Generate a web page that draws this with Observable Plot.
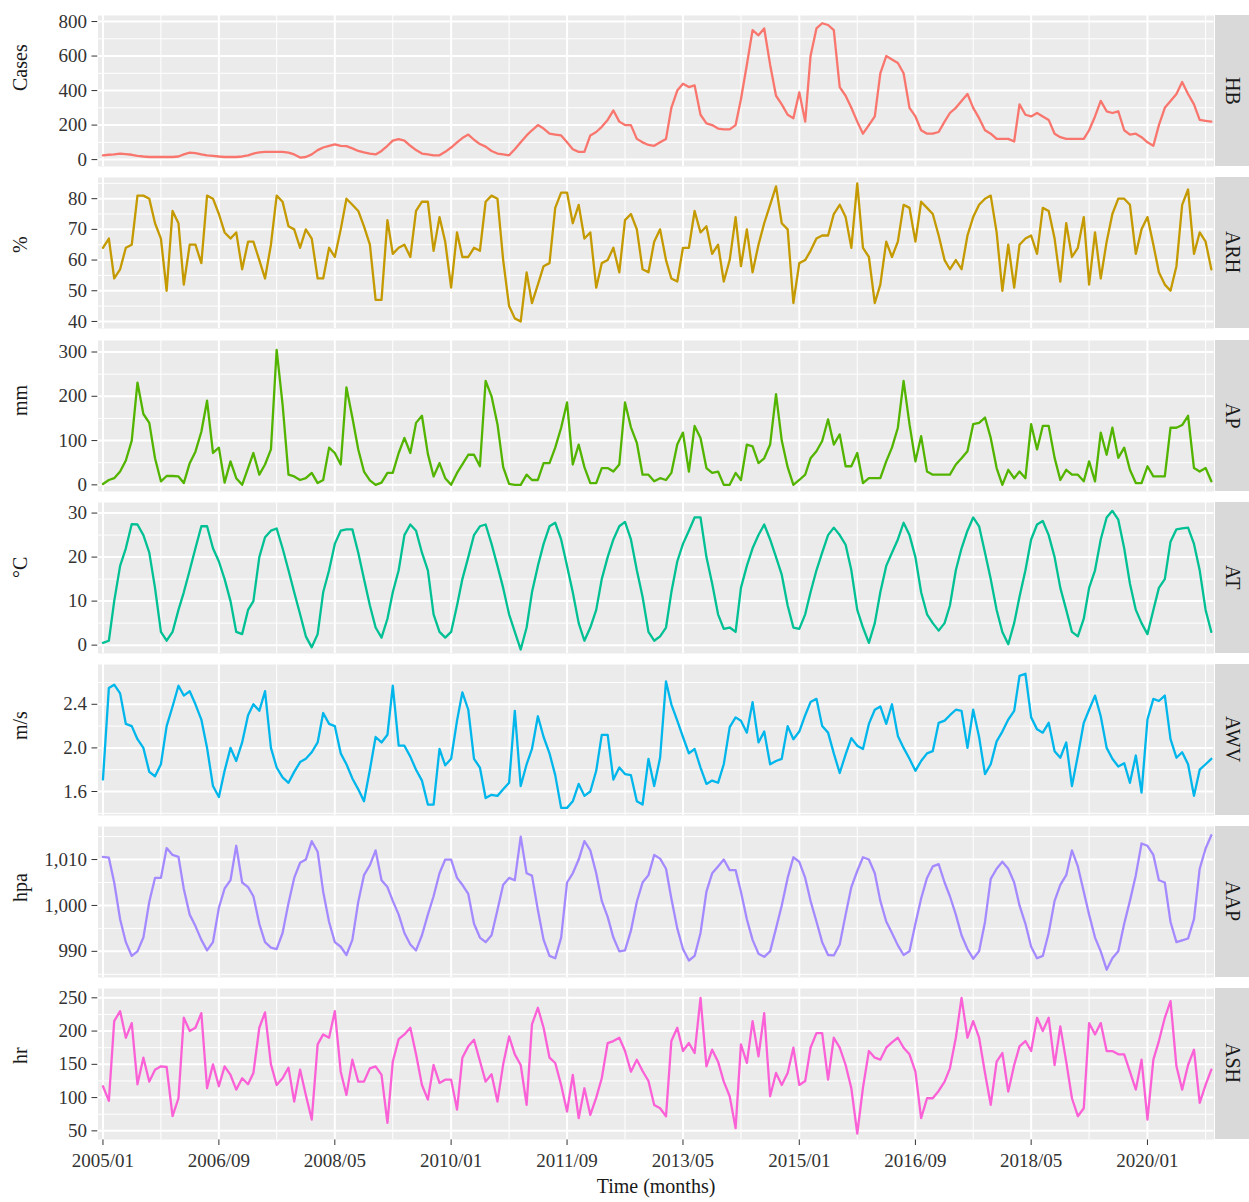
<!DOCTYPE html>
<html>
<head>
<meta charset="utf-8">
<script src="https://cdn.jsdelivr.net/npm/d3@7"></script>
<script src="https://cdn.jsdelivr.net/npm/@observablehq/plot@0.6"></script>
<style>
  body { margin: 0; background: #fff; }
  #chart { position: relative; width: 1249px; height: 1202px; font-family: "Liberation Serif", "DejaVu Serif", serif; }
  #chart svg.plotsvg { position: absolute; left: 0; }
  .strip { position: absolute; left: 1215px; width: 34px; height: 151px; background: #d9d9d9; color: #1a1a1a;
           font-size: 20px; display: flex; align-items: center; justify-content: center; writing-mode: vertical-rl; }
</style>
</head>
<body>
<div id="chart"></div>
<script>
// ---- data (monthly, 2005/01 .. 2020/12) ----
const panelNames = ["HB", "ARH", "AP", "AT", "AWV", "AAP", "ASH"];
const unitLabels = ["Cases", "%", "mm", "°C", "m/s", "hpa", "hr"];
const xTickLabels = ["2005/01", "2006/09", "2008/05", "2010/01", "2011/09", "2013/05", "2015/01", "2016/09", "2018/05", "2020/01"];
const xTitle = "Time (months)";

const HB = [
  25, 28, 30, 35, 32, 28, 22, 18, 15, 15, 15, 15,
  15, 18, 30, 40, 38, 30, 25, 22, 18, 15, 15, 15,
  18, 25, 35, 42, 45, 45, 45, 45, 40, 30, 12, 15,
  30, 55, 70, 80, 88, 80, 78, 65, 50, 42, 35, 30,
  50, 80, 110, 118, 110, 80, 55, 35, 30, 25, 25, 45,
  70, 100, 125, 145, 115, 90, 75, 50, 35, 30, 25, 60,
  100, 140, 170, 200, 180, 150, 145, 140, 100, 60, 45, 45,
  140, 160, 190, 230, 285, 220, 200, 200, 120, 100, 85, 80,
  100, 120, 300, 400, 440, 420, 430, 260, 210, 200, 180, 175,
  175, 200, 350, 550, 750, 720, 760, 550, 370, 320, 260, 240,
  390, 220, 600, 760, 790, 780, 750, 420, 370, 300, 220, 150,
  200, 250, 500, 600, 580, 560, 500, 300, 250, 170, 150, 150,
  160, 220, 270, 300, 340, 380, 300, 240, 170, 150, 120, 120,
  120, 105, 320, 260, 250, 270, 250, 230, 150, 130, 120, 120,
  120, 120, 170, 250, 340, 280, 270, 280, 170, 145, 150, 130,
  100, 80, 200, 300, 340, 380, 450, 380, 320, 230, 225, 220
];
const ARH = [
  64, 67, 54, 57, 64, 65, 81, 81, 80, 72, 67, 50,
  76, 72, 52, 65, 65, 59, 81, 80, 75, 69, 67, 69,
  57, 66, 66, 60, 54, 65, 81, 79, 71, 70, 64, 70,
  67, 54, 54, 64, 61, 70, 80, 78, 76, 71, 65, 47,
  47, 73, 62, 64, 65, 61, 76, 79, 79, 63, 74, 66,
  51, 69, 61, 61, 64, 63, 79, 81, 80, 60, 45, 41,
  40, 56, 46, 52, 58, 59, 77, 82, 82, 72, 78, 67,
  69, 51, 59, 60, 64, 56, 73, 75, 70, 57, 56, 66,
  70, 60, 54, 53, 64, 64, 76, 69, 71, 62, 65, 53,
  60, 74, 58, 70, 56, 65, 72, 78, 84, 72, 70, 46,
  59, 60, 63, 67, 68, 68, 75, 78, 74, 64, 85, 64,
  61, 46, 52, 66, 61, 66, 78, 77, 66, 79, 77, 75,
  68, 60, 57, 60, 57, 68, 74, 78, 80, 81, 69, 50,
  65, 51, 65, 67, 68, 62, 77, 76, 67, 53, 72, 61,
  64, 74, 52, 69, 54, 66, 75, 80, 80, 78, 62, 70,
  74, 65, 56, 52, 50, 58, 78, 83, 62, 69, 66, 57
];
const AP = [
  2, 11, 15, 30, 55, 100, 231, 160, 140, 60, 8, 20,
  20, 19, 4, 49, 75, 120, 190, 72, 84, 5, 53, 15,
  0, 38, 72, 23, 46, 80, 305, 182, 23, 19, 11, 15,
  27, 4, 11, 84, 72, 46, 220, 152, 80, 30, 10, 0,
  5, 27, 27, 72, 106, 72, 140, 156, 70, 19, 49, 15,
  0, 27, 46, 68, 68, 42, 235, 200, 137, 40, 2, 0,
  0, 23, 11, 11, 49, 49, 84, 129, 186, 46, 91, 40,
  4, 4, 38, 38, 30, 46, 186, 130, 95, 23, 23, 8,
  15, 11, 27, 91, 118, 30, 133, 106, 38, 27, 30, 0,
  0, 27, 11, 91, 87, 49, 60, 91, 205, 100, 40, 0,
  11, 23, 60, 76, 99, 148, 91, 114, 42, 42, 72, 4,
  15, 15, 15, 53, 84, 129, 235, 137, 53, 110, 30, 23,
  23, 23, 23, 46, 60, 76, 137, 140, 152, 106, 38, 0,
  34, 15, 30, 15, 137, 80, 133, 133, 61, 11, 34, 23,
  23, 8, 53, 8, 118, 68, 129, 61, 84, 34, 4, 4,
  42, 19, 19, 19, 129, 129, 135, 156, 38, 30, 38, 8
];
const AT = [
  0.5, 1, 10, 18, 22, 27.5, 27.4, 25, 21, 13, 3, 1,
  3, 8, 12, 17, 22, 27, 27, 22, 19, 15, 10, 3,
  2.5, 8, 10, 20, 24.5, 26, 26.5, 22, 17, 12, 7, 2,
  -0.5, 2.5, 12, 17, 23, 26, 26.3, 26.3, 21, 15, 9, 4,
  1.7, 6, 12, 17, 25, 27.4, 26, 21, 17, 7, 3, 1.7,
  3, 9, 15, 20, 25, 27, 27.4, 23, 18, 13, 7, 3,
  -1, 4, 12, 18, 23, 27, 27.8, 24, 18, 12, 5, 1,
  4, 8, 15, 20, 24, 27, 28, 24, 17, 11, 3, 1,
  2, 4, 12, 19, 23, 26, 29, 29, 20, 14, 7, 3.7,
  4, 3, 13, 18, 22, 25, 27.4, 24, 20, 16, 9, 4,
  3.7, 7, 12, 17, 21, 25, 26.7, 25, 22.8, 17, 8, 4,
  0.5, 5, 12, 18, 21, 24, 27.8, 25, 20, 12, 7, 5,
  3.3, 5, 9, 17, 22, 26, 29, 27, 21, 15, 8, 3,
  0.2, 5, 11, 17, 24, 27.4, 28.2, 25, 20, 13, 8, 3,
  2, 6, 13, 17, 24, 29, 30.5, 28.5, 22, 14, 8, 5,
  2.5, 8, 13, 15, 23.5, 26.3, 26.5, 26.7, 23, 17, 8, 3
];
const AWV = [
  1.71, 2.55, 2.58, 2.5, 2.22, 2.2, 2.08, 2.0, 1.78, 1.74, 1.85, 2.2,
  2.38, 2.57, 2.48, 2.52, 2.4, 2.26, 2.0, 1.65, 1.55, 1.79, 2.0, 1.88,
  2.05, 2.3, 2.4, 2.34, 2.52, 2.0, 1.82, 1.73, 1.68, 1.78, 1.87, 1.9,
  1.96, 2.05, 2.32, 2.22, 2.2, 1.95, 1.85, 1.72, 1.62, 1.51, 1.8, 2.1,
  2.05, 2.12, 2.57, 2.02, 2.02, 1.92, 1.8, 1.7, 1.48, 1.48, 1.99, 1.84,
  1.9, 2.25, 2.51, 2.35, 1.9, 1.82, 1.54, 1.57, 1.56, 1.62, 1.68, 2.34,
  1.65, 1.85, 1.99, 2.29, 2.1, 1.95, 1.75, 1.45, 1.45, 1.51, 1.67, 1.56,
  1.6, 1.79, 2.12, 2.12, 1.71, 1.82, 1.76, 1.75, 1.51, 1.48, 1.9, 1.65,
  1.91, 2.61, 2.4, 2.25, 2.1, 1.95, 1.99, 1.82, 1.67, 1.7, 1.68, 1.85,
  2.19, 2.28, 2.25, 2.14, 2.42, 2.05, 2.15, 1.85, 1.88, 1.9, 2.2, 2.08,
  2.15, 2.3, 2.42, 2.45, 2.2, 2.14, 1.95, 1.77, 1.94, 2.09, 2.02, 1.99,
  2.22, 2.35, 2.38, 2.22, 2.4, 2.11, 2.0, 1.9, 1.79, 1.88, 1.95, 1.97,
  2.23, 2.25, 2.3, 2.35, 2.34, 2.0, 2.35, 2.1, 1.76, 1.85, 2.06, 2.15,
  2.26, 2.34, 2.66, 2.68, 2.28, 2.17, 2.14, 2.23, 1.97, 1.91, 2.05, 1.65,
  1.93, 2.23, 2.35, 2.48, 2.29, 2.0, 1.9, 1.83, 1.86, 1.68, 1.93, 1.59,
  2.26, 2.45, 2.43, 2.48, 2.08, 1.91, 1.96, 1.85, 1.56, 1.8, 1.85, 1.9
];
const AAP = [
  1010.6, 1010.4, 1005, 997, 992, 989, 990, 993, 1000.8, 1006, 1006, 1012.5,
  1011, 1010.6, 1003.6, 998, 995.5, 992.5, 990.2, 992, 999.5, 1003.7, 1005.5, 1013,
  1005, 1004, 1002, 996, 992, 990.8, 990.5, 994, 1000.5, 1006, 1009.3, 1010,
  1014, 1011.7, 1003, 996.4, 992, 991, 989.2, 992.5, 1000.8, 1006.6, 1008.8, 1012,
  1005.5, 1004, 1001, 998, 994, 991.5, 990.2, 993.5, 998, 1002, 1007, 1010,
  1010, 1006, 1004.5, 1002.5, 996, 993, 992, 993.5, 999, 1004.5, 1006, 1005.5,
  1015, 1007, 1006.5, 999, 992.5, 989, 988.5, 993, 1005, 1007, 1010, 1014,
  1012, 1007, 1001, 997.5, 993, 990, 990.2, 994.5, 1000.8, 1005, 1006.6, 1011,
  1010.2, 1008, 1001.5, 995, 990.5, 988, 989, 994, 1003, 1007, 1008.5, 1010,
  1007.7, 1007.7, 1003, 997, 992.5, 989.5, 988.8, 990, 995, 1000, 1006, 1010.5,
  1009.5, 1006, 1001, 996.5, 992, 989.2, 989.1, 991.5, 998, 1004, 1007.5, 1010.5,
  1010, 1007, 1001, 996.5, 994, 991.3, 989.2, 990, 996, 1001.5, 1006, 1008.5,
  1009, 1005, 1002, 998, 993.5, 990.5, 988.4, 990, 996.4, 1005.8, 1008, 1009.5,
  1008, 1005, 1000, 996, 991, 988.5, 989, 994, 1001, 1004.5, 1006.6, 1012,
  1008.5, 1003, 998, 993, 990, 986, 988.5, 990, 996, 1001, 1006.6, 1013.5,
  1013, 1011, 1005.5, 1005, 996.4, 992, 992.4, 992.8, 997, 1008, 1012.4, 1015.3
];
const ASH = [
  117, 95, 215, 230, 190, 212, 120, 160, 124, 142, 147, 146,
  72, 99, 220, 200, 205, 227, 114, 150, 117, 147, 134, 112,
  129, 120, 137, 205, 228, 150, 119, 129, 145, 94, 142, 104,
  67, 180, 195, 190, 230, 139, 104, 157, 124, 124, 144, 147,
  134, 62, 154, 188, 195, 205, 165, 119, 97, 149, 122, 127,
  127, 82, 160, 177, 187, 155, 124, 135, 94, 150, 192, 165,
  149, 89, 210, 235, 205, 160, 152, 119, 79, 134, 69, 114,
  74, 100, 129, 182, 185, 190, 170, 139, 157, 140, 125, 89,
  84, 72, 185, 205, 170, 182, 167, 250, 147, 172, 154, 124,
  102, 54, 180, 152, 215, 162, 227, 102, 137, 119, 137, 175,
  119, 125, 175, 197, 197, 127, 190, 175, 149, 114, 46, 115,
  170, 160, 157, 175, 183, 190, 175, 165, 139, 69, 99, 99,
  110, 124, 144, 190, 250, 190, 215, 190, 137, 89, 154, 167,
  109, 149, 177, 185, 170, 220, 200, 220, 149, 207, 154, 99,
  72, 84, 212, 195, 212, 170, 170, 165, 165, 139, 112, 157,
  67, 157, 185, 220, 245, 147, 112, 149, 172, 92, 119, 142
];

const seriesValues = [HB, ARH, AP, AT, AWV, AAP, ASH];
const seriesColors = ["#F8766D", "#C49A00", "#53B400", "#00C094", "#00B6EB", "#A58AFF", "#FB61D7"];
const yTicks = [
  [0, 200, 400, 600, 800],
  [40, 50, 60, 70, 80],
  [0, 100, 200, 300],
  [0, 10, 20, 30],
  [1.6, 2.0, 2.4],
  [990, 1000, 1010],
  [50, 100, 150, 200, 250]
];
const yMinor = [
  [100, 300, 500, 700],
  [45, 55, 65, 75, 85],
  [50, 150, 250],
  [5, 15, 25],
  [1.4, 1.8, 2.2, 2.6],
  [985, 995, 1005, 1015],
  [75, 125, 175, 225]
];
const yDomains = [
  [-40, 835],
  [37.7, 86.9],
  [-15, 326],
  [-1.9, 32.4],
  [1.38, 2.765],
  [984.3, 1017.2],
  [37, 264]
];
const yFormats = [d3.format(","), d3.format(","), d3.format(","), d3.format(","), d3.format(".1f"), d3.format(","), d3.format(",")];

// ---- layout ----
const panelTops = [15, 177, 340, 502, 664, 826, 988];
const panelH = 151;
const pad = 12;
const parseMonth = d3.utcParse("%Y/%m");
const xTicks = xTickLabels.map(parseMonth);
const xMinor = xTicks.map(d => d3.utcMonth.offset(d, 10));
const xDomain = [new Date(Date.UTC(2004, 11, 6)), new Date(Date.UTC(2020, 11, 15))];
const dates = d3.range(192).map(i => new Date(Date.UTC(2005, i, 1)));

const chart = document.getElementById("chart");

panelNames.forEach((name, i) => {
  const last = i === panelNames.length - 1;
  const data = seriesValues[i].map((v, k) => ({date: dates[k], value: v}));
  const mb = last ? 64 : pad;
  const svg = Plot.plot({
    width: 1215,
    height: panelH + pad + mb,
    marginLeft: 97.5,
    marginRight: 1.5,
    marginTop: pad,
    marginBottom: mb,
    style: {fontFamily: '"Liberation Serif", "DejaVu Serif", serif', fontSize: "19px", color: "#333", background: "transparent"},
    x: {type: "utc", domain: xDomain, ticks: xTicks, tickFormat: d3.utcFormat("%Y/%m"),
        tickSize: 6, tickPadding: 8, label: null, axis: last ? "bottom" : null},
    y: {domain: yDomains[i], ticks: yTicks[i], tickFormat: yFormats[i], tickSize: 6, tickPadding: 5, label: null},
    marks: [
      Plot.frame({fill: "#ebebeb", stroke: null}),
      Plot.ruleY(yMinor[i], {stroke: "#fff", strokeWidth: 1}),
      Plot.ruleX(xMinor, {stroke: "#fff", strokeWidth: 1}),
      Plot.ruleY(yTicks[i], {stroke: "#fff", strokeWidth: 2}),
      Plot.ruleX(xTicks, {stroke: "#fff", strokeWidth: 2}),
      Plot.lineY(data, {x: "date", y: "value", stroke: seriesColors[i], strokeWidth: 2.3}),
      Plot.text([unitLabels[i]], {frameAnchor: "left", dx: -77, rotate: -90, fontSize: 20, fill: "#1a1a1a"}),
      last ? Plot.text([xTitle], {frameAnchor: "bottom", dy: 53, fontSize: 20, fill: "#1a1a1a"}) : null
    ]
  });
  svg.classList.add("plotsvg");
  svg.style.top = (panelTops[i] - pad) + "px";
  chart.appendChild(svg);

  const strip = document.createElement("div");
  strip.className = "strip";
  strip.style.top = panelTops[i] + "px";
  strip.textContent = name;
  chart.appendChild(strip);
});
</script>
</body>
</html>
